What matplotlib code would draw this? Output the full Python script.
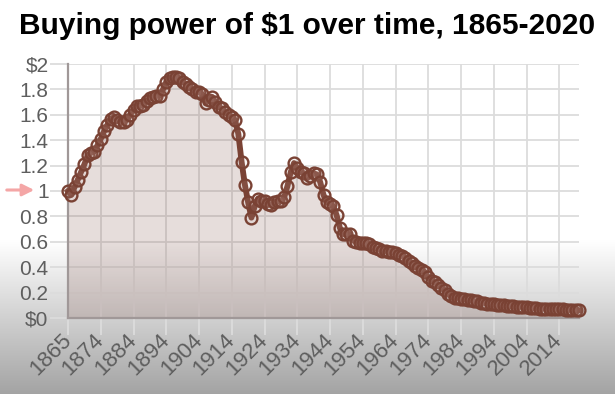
import numpy as np
import matplotlib
matplotlib.use("Agg")
import matplotlib.pyplot as plt

# ---------------- data ----------------
title = "Buying power of $1 over time, 1865-2020"

values_early = [1.00, 0.97, 1.03, 1.09, 1.15, 1.21, 1.28, 1.30, 1.31, 1.36,
                1.41, 1.47, 1.52, 1.57, 1.58, 1.56, 1.545, 1.545, 1.56, 1.60,
                1.64, 1.67, 1.67, 1.68, 1.71, 1.73, 1.74, 1.75, 1.75, 1.80,
                1.86, 1.89, 1.90, 1.90, 1.89, 1.86, 1.84, 1.82, 1.80, 1.78,
                1.78, 1.76, 1.69, 1.72, 1.74, 1.70, 1.66, 1.65, 1.62]
values_late = [1.60, 1.58, 1.56, 1.45, 1.23, 1.05, 0.91, 0.79, 0.88, 0.94,
               0.92, 0.92, 0.90, 0.89, 0.91, 0.92, 0.92, 0.95, 1.04, 1.15,
               1.22, 1.18, 1.15, 1.14, 1.10, 1.12, 1.14, 1.13, 1.07, 0.97,
               0.91, 0.90, 0.88, 0.81, 0.71, 0.66, 0.66, 0.66, 0.61, 0.60,
               0.59, 0.59, 0.59, 0.58, 0.56, 0.55, 0.54, 0.53, 0.53, 0.52,
               0.52, 0.51, 0.50, 0.49, 0.47, 0.45, 0.43, 0.41, 0.39, 0.38,
               0.36, 0.32, 0.29, 0.28, 0.26, 0.24, 0.22, 0.19, 0.17, 0.16,
               0.16, 0.15, 0.15, 0.14, 0.14, 0.13, 0.13, 0.12, 0.12, 0.11,
               0.11, 0.11, 0.10, 0.10, 0.099, 0.097, 0.095, 0.092, 0.089, 0.088,
               0.086, 0.084, 0.081, 0.078, 0.076, 0.073, 0.074, 0.072, 0.070, 0.069,
               0.068, 0.067, 0.067, 0.066, 0.064, 0.063, 0.062, 0.061]
values = values_early + values_late

x_tick_labels = ["1865", "1874", "1884", "1894", "1904", "1914", "1924", "1934",
                 "1944", "1954", "1964", "1974", "1984", "1994", "2004", "2014"]
y_ticks = [0, 0.2, 0.4, 0.6, 0.8, 1.0, 1.2, 1.4, 1.6, 1.8, 2.0]
y_tick_labels = ["$0", "0.2", "0.4", "0.6", "0.8", "1", "1.2", "1.4", "1.6", "1.8", "$2"]

# ---------------- figure ----------------
W, H = 615, 394
fig = plt.figure(figsize=(W / 100, H / 100), dpi=100)

# background gradient (white top, grey toward bottom)
bg = fig.add_axes([0, 0, 1, 1], zorder=-10)
rows = np.arange(H)
g = np.ones(H)
start = 240
mask = rows > start
g[mask] = 1.0 - (rows[mask] - start) / (H - start) * 0.36
img = np.repeat(g[:, None], 2, axis=1)
img = np.dstack([img, img, img])
bg.imshow(img, aspect="auto", extent=[0, 1, 0, 1], origin="upper")
bg.set_axis_off()

left, right = 68 / W, 579 / W
bottom, top = (H - 318) / H, (H - 64) / H
ax = fig.add_axes([left, bottom, right - left, top - bottom])
ax.patch.set_alpha(0)

x = np.arange(len(values))
brown = "#7a4234"
ax.fill_between(x, values, 0, color=(0.475, 0.27, 0.23, 0.18), linewidth=0, zorder=1)
ax.plot(x, values, color=brown, linewidth=4.2, zorder=3, clip_on=False,
        marker="o", markersize=8.5, markeredgewidth=1.7,
        markeredgecolor=brown, markerfacecolor=(0.80, 0.66, 0.63, 0.12))

ax.set_xlim(0, len(values) - 1)
ax.set_ylim(0, 2)

ax.set_yticks(y_ticks)
ax.set_yticklabels(y_tick_labels)
ax.set_xticks(np.arange(0, len(x_tick_labels) * 10, 10))
ax.set_xticklabels(x_tick_labels, rotation=45, ha="right", va="center",
                   rotation_mode="anchor")

grid_c = "#dcdcdc"
ax.grid(True, color=grid_c, linewidth=1.3, zorder=0)
ax.set_axisbelow(True)
for s in ["top", "right"]:
    ax.spines[s].set_visible(False)
for s in ["left", "bottom"]:
    ax.spines[s].set_color("#a09898")
    ax.spines[s].set_linewidth(1.6)

ax.tick_params(axis="x", length=12, width=1.3, color=grid_c, pad=2,
               labelsize=16, labelcolor="#5e5e5e")
ax.tick_params(axis="y", length=13, width=1.3, color=grid_c, pad=1,
               labelsize=15, labelcolor="#5e5e5e")
for lab in ax.get_xticklabels() + ax.get_yticklabels():
    lab.set_fontfamily("Liberation Sans")

fig.text(0.5, 1 - 26 / H, title, ha="center", va="center",
         fontsize=21.5, fontweight="bold", family="Liberation Sans", color="black")

# pink arrow pointing to the 1 label
y1 = 1 - 190 / H
fig.add_artist(matplotlib.patches.FancyArrowPatch(
    (4 / W, y1), (37 / W, y1), transform=fig.transFigure,
    arrowstyle="-|>,head_length=7,head_width=3.5", color="#f4a6a6",
    linewidth=2.2, mutation_scale=1))

fig.savefig("out.png", dpi=100)
